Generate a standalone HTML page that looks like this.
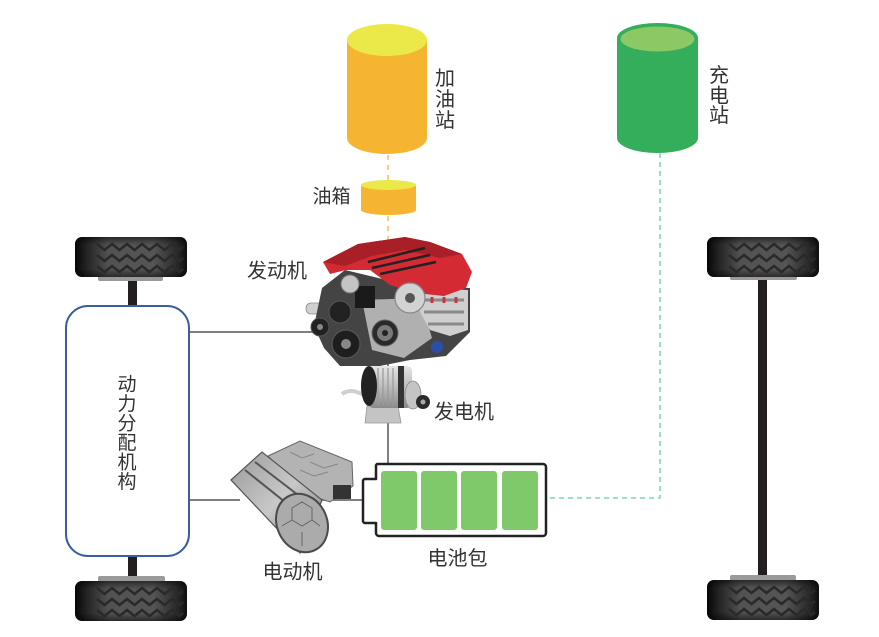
<!DOCTYPE html>
<html><head><meta charset="utf-8"><style>
html,body{margin:0;padding:0;background:#fff;}
svg{display:block;}
text{font-family:"Liberation Sans","Noto Sans CJK SC",sans-serif;fill:#333;}
</style></head><body>
<svg width="879" height="637" viewBox="0 0 879 637" xmlns="http://www.w3.org/2000/svg">
<defs>
<linearGradient id="tireH" x1="0" y1="0" x2="1" y2="0">
<stop offset="0" stop-color="#060606"/><stop offset="0.1" stop-color="#222"/><stop offset="0.3" stop-color="#525252"/><stop offset="0.7" stop-color="#555"/><stop offset="0.9" stop-color="#2c2c2c"/><stop offset="1" stop-color="#0e0e0e"/>
</linearGradient>
<linearGradient id="tireV" x1="0" y1="0" x2="0" y2="1">
<stop offset="0" stop-color="#000" stop-opacity="0.5"/><stop offset="0.2" stop-color="#000" stop-opacity="0"/><stop offset="0.8" stop-color="#000" stop-opacity="0"/><stop offset="1" stop-color="#000" stop-opacity="0.5"/>
</linearGradient>
<linearGradient id="silver" x1="0" y1="0" x2="0" y2="1">
<stop offset="0" stop-color="#e6e6e6"/><stop offset="0.5" stop-color="#bcbcbc"/><stop offset="1" stop-color="#8a8a8a"/>
</linearGradient>
<linearGradient id="motorG" x1="0" y1="0" x2="1" y2="1">
<stop offset="0" stop-color="#9a9a9a"/><stop offset="0.5" stop-color="#c8c8c8"/><stop offset="1" stop-color="#767676"/>
</linearGradient>
<path id="zz" d="M22,-3 L29.5,3 L37,-3 L44.5,3 L52,-3 L59.5,3 L67,-3 L74.5,3 L82,-3 L89.5,3 L97,-3 L104.5,3 L108,0" fill="none" stroke="#2a2a2a" stroke-width="2.6"/>
<g id="tire">
<rect x="0" y="0" width="112" height="40" rx="7" fill="url(#tireH)"/>
<rect x="0" y="0" width="112" height="40" rx="7" fill="url(#tireV)"/>
<use href="#zz" transform="translate(0,10)"/>
<use href="#zz" transform="translate(0,21)"/>
<use href="#zz" transform="translate(0,32)"/>
</g>
</defs>

<!-- wheels and axles -->
<rect x="128" y="278" width="9" height="30" fill="#231f20"/>
<rect x="128" y="555" width="9" height="24" fill="#231f20"/>
<rect x="758" y="276" width="9" height="304" fill="#231f20"/>
<rect x="98" y="275" width="65" height="6" rx="2" fill="#9a9a9a"/>
<rect x="98" y="576" width="67" height="6" rx="2" fill="#9a9a9a"/>
<rect x="730" y="274" width="67" height="6" rx="2" fill="#9a9a9a"/>
<rect x="730" y="575" width="66" height="6" rx="2" fill="#9a9a9a"/>
<use href="#tire" transform="translate(75,237)"/>
<use href="#tire" transform="translate(707,237)"/>
<use href="#tire" transform="translate(75,581)"/>
<use href="#tire" transform="translate(707,580)"/>

<!-- power split box -->
<rect x="66" y="306" width="123" height="250" rx="22" fill="#fff" stroke="#3a5e9e" stroke-width="2"/>
<text font-size="19" text-anchor="middle" dominant-baseline="central">
<tspan x="127" y="384.5">动</tspan><tspan x="127" y="404">力</tspan><tspan x="127" y="423.5">分</tspan><tspan x="127" y="443">配</tspan><tspan x="127" y="462.5">机</tspan><tspan x="127" y="482">构</tspan>
</text>

<!-- connector lines -->
<line x1="189" y1="332" x2="320" y2="332" stroke="#555" stroke-width="1.5"/>
<line x1="189" y1="500" x2="240" y2="500" stroke="#555" stroke-width="1.5"/>
<line x1="320" y1="500" x2="363" y2="500" stroke="#555" stroke-width="1.5"/>
<line x1="388" y1="350" x2="388" y2="368" stroke="#555" stroke-width="1.5"/>
<line x1="388" y1="420" x2="388" y2="464" stroke="#555" stroke-width="1.5"/>

<!-- dashed lines -->
<line x1="388" y1="155" x2="388" y2="180" stroke="#f7cf8a" stroke-width="2" stroke-dasharray="5,5"/>
<line x1="388" y1="216" x2="388" y2="242" stroke="#f7cf8a" stroke-width="2" stroke-dasharray="5,5"/>
<polyline points="660,153 660,498 548,498" fill="none" stroke="#7fd3bd" stroke-width="1.5" stroke-dasharray="5,4"/>

<!-- gas station cylinder -->
<rect x="347" y="40" width="80" height="98" fill="#f5b530"/>
<ellipse cx="387" cy="138" rx="40" ry="16" fill="#f5b530"/>
<ellipse cx="387" cy="40" rx="40" ry="16" fill="#ebe84a"/>
<text font-size="20" text-anchor="middle" dominant-baseline="central">
<tspan x="445" y="79">加</tspan><tspan x="445" y="100">油</tspan><tspan x="445" y="121">站</tspan>
</text>

<!-- fuel tank -->
<rect x="361" y="185" width="55" height="25" fill="#f5b530"/>
<ellipse cx="388.5" cy="210" rx="27.5" ry="5" fill="#f5b530"/>
<ellipse cx="388.5" cy="185" rx="27.5" ry="5" fill="#ebe84a"/>
<text x="331.5" y="197" font-size="19" text-anchor="middle" dominant-baseline="central">油箱</text>

<!-- charging station -->
<rect x="617" y="38" width="81" height="100" fill="#35ae5c"/>
<ellipse cx="657.5" cy="138" rx="40.5" ry="15" fill="#35ae5c"/>
<ellipse cx="657.5" cy="38" rx="40.5" ry="15" fill="#35ae5c"/>
<ellipse cx="657.5" cy="39" rx="37" ry="12.5" fill="#8cc864"/>
<text font-size="20" text-anchor="middle" dominant-baseline="central">
<tspan x="719" y="76">充</tspan><tspan x="719" y="96.5">电</tspan><tspan x="719" y="116">站</tspan>
</text>

<!-- engine -->
<g>
<rect x="306" y="303" width="28" height="11" rx="5" fill="#cfcfcf" stroke="#8a8a8a" stroke-width="0.8"/>
<polygon points="322,288 345,270 420,288 470,288 470,332 446,356 410,360 380,366 340,366 324,348 314,326" fill="#444"/>
<polygon points="362,300 420,298 432,338 404,358 372,350" fill="#b0b0b0"/>
<path d="M420,288 L468,290 L468,330 L450,336 L430,330 L420,312 Z" fill="#cfcfcf"/>
<path d="M424,300 h40 M424,312 h40 M428,324 h36" stroke="#8a8a8a" stroke-width="3"/>
<path d="M432,297 v6 M444,297 v6 M456,297 v6" stroke="#c8343c" stroke-width="3"/>
<polygon points="323,262 358,244 405,237 430,242 462,254 472,272 466,288 444,296 416,293 390,285 370,270 346,270 330,274" fill="#d42a33"/>
<polygon points="323,262 358,244 405,237 430,242 462,254 440,258 405,250 372,256 345,266" fill="#a91f27"/>
<path d="M368,262 L425,248 M372,268 L430,255 M380,274 L436,262" stroke="#222" stroke-width="2.5"/>
<rect x="355" y="286" width="20" height="22" fill="#1a1a1a"/>
<circle cx="350" cy="284" r="9" fill="#c4c4c4" stroke="#777" stroke-width="1"/>
<circle cx="410" cy="298" r="15" fill="#d2d2d2" stroke="#888" stroke-width="1.2"/>
<circle cx="410" cy="298" r="5" fill="#555"/>
<circle cx="340" cy="312" r="11" fill="#222" stroke="#555" stroke-width="1"/>
<circle cx="320" cy="327" r="9" fill="#222" stroke="#555" stroke-width="1"/>
<circle cx="320" cy="327" r="3" fill="#888"/>
<circle cx="346" cy="344" r="14" fill="#1e1e1e" stroke="#555" stroke-width="1.2"/>
<circle cx="346" cy="344" r="5" fill="#888"/>
<circle cx="385" cy="333" r="13" fill="#2a2a2a" stroke="#666" stroke-width="1"/>
<circle cx="385" cy="333" r="8" fill="#7a7a7a"/>
<circle cx="385" cy="333" r="3" fill="#222"/>
<circle cx="437" cy="347" r="6" fill="#2d4ea8"/>
</g>
<text x="277" y="271.5" font-size="20" text-anchor="middle" dominant-baseline="central">发动机</text>

<!-- generator -->
<g>
<path d="M342,394 C350,388 358,392 366,396" fill="none" stroke="#cfcfcf" stroke-width="4"/>
<polygon points="367,406 398,406 401,423 365,423" fill="#c4c4c4" stroke="#999" stroke-width="0.8"/>
<rect x="368" y="366" width="44" height="42" rx="5" fill="url(#silver)"/>
<path d="M378,368 v38 M383,368 v38 M388,368 v38 M393,368 v38" stroke="#999" stroke-width="1.2"/>
<rect x="398" y="366" width="6" height="42" fill="#333"/>
<ellipse cx="369" cy="386" rx="8" ry="20" fill="#222"/>
<ellipse cx="413" cy="395" rx="8" ry="14" fill="#c4c4c4" stroke="#888" stroke-width="0.8"/>
<circle cx="423" cy="402" r="7" fill="#2a2a2a"/>
<circle cx="423" cy="402" r="2.5" fill="#aaa"/>
</g>
<text x="464" y="412.5" font-size="20" text-anchor="middle" dominant-baseline="central">发电机</text>

<!-- electric motor -->
<g>
<polygon points="268,456 300,441 352,462 353,486 330,502 300,492" fill="#b3b3b3" stroke="#666" stroke-width="1"/>
<path d="M290,452 l12,6 l12,-4 M310,462 l14,6 l14,-4 M300,470 l14,6 l14,-4" fill="none" stroke="#888" stroke-width="1"/>
<polygon points="231,480 262,452 322,500 300,553" fill="url(#motorG)" stroke="#555" stroke-width="1.2"/>
<path d="M245,470 L305,518 M255,462 L315,508" stroke="#555" stroke-width="2"/>
<ellipse cx="302" cy="523" rx="25" ry="30" transform="rotate(-25 302 523)" fill="#ababab" stroke="#4a4a4a" stroke-width="2"/>
<path d="M292,508 l10,-6 l10,6 v12 l-10,6 l-10,-6 z M282,526 l10,-6 M312,520 l8,6 M302,532 v14" fill="none" stroke="#666" stroke-width="1"/>
<rect x="333" y="485" width="18" height="14" fill="#333"/>
</g>
<text x="292.5" y="572.5" font-size="20" text-anchor="middle" dominant-baseline="central">电动机</text>

<!-- battery -->
<path d="M377,464 H543 a3,3 0 0 1 3,3 V533 a3,3 0 0 1 -3,3 H379 a3,3 0 0 1 -3,-3 V523 H365 a2,2 0 0 1 -2,-2 V481 a2,2 0 0 1 2,-2 H376 V467 a3,3 0 0 1 1,-3 Z" fill="#fff" stroke="#222" stroke-width="2.5" stroke-linejoin="round"/>
<rect x="381" y="471" width="36" height="59" rx="3" fill="#80c96a"/>
<rect x="421" y="471" width="36" height="59" rx="3" fill="#80c96a"/>
<rect x="461" y="471" width="36" height="59" rx="3" fill="#80c96a"/>
<rect x="502" y="471" width="36" height="59" rx="3" fill="#80c96a"/>
<text x="457.5" y="559" font-size="20" text-anchor="middle" dominant-baseline="central">电池包</text>
</svg>
</body></html>
